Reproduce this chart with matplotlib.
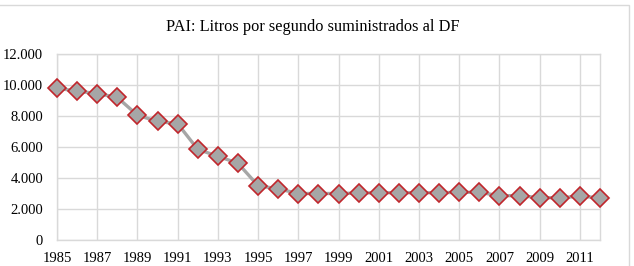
import matplotlib
matplotlib.use("Agg")
import matplotlib.pyplot as plt
from matplotlib.patches import Rectangle
from matplotlib.ticker import FuncFormatter

years = list(range(1985, 2013))
values = [9800, 9600, 9450, 9200, 8050, 7650, 7500, 5850, 5400, 4950,
          3500, 3300, 3000, 3000, 3000, 3030, 3050, 3050, 3050, 3050,
          3075, 3075, 2860, 2860, 2730, 2730, 2820, 2730]
title = "PAI: Litros por segundo suministrados al DF"
yticks = [0, 2000, 4000, 6000, 8000, 10000, 12000]
xticks = list(range(1985, 2012, 2))

plt.rcParams['font.family'] = ['Liberation Serif', 'DejaVu Serif']

W, H = 634, 266
fig = plt.figure(figsize=(W / 100, H / 100), dpi=100)
fig.patch.set_facecolor('white')

# outer chart frame
fig.patches.append(Rectangle((-0.01, -0.05), (629 + 6) / W, 1 - 5 / H + 0.05,
                             transform=fig.transFigure, fill=False,
                             edgecolor='#d9d9d9', linewidth=1.0))

left, right, top, bottom = 57, 600, 54, 240
ax = fig.add_axes([left / W, (H - bottom) / H, (right - left) / W, (bottom - top) / H])

ax.plot(years, values, color='#a6a6a6', linewidth=2.4, marker='D',
        markersize=9.3, markerfacecolor='#a6a6a6', markeredgecolor='#c0262c',
        markeredgewidth=1.2, zorder=3, clip_on=False)

ax.set_xlim(1985, 2012)
ax.set_ylim(0, 12000)
ax.set_yticks(yticks)
ax.set_xticks(xticks)
ax.yaxis.set_major_formatter(FuncFormatter(lambda v, p: f"{int(v):,}".replace(",", ".")))
ax.grid(True, color='#d9d9d9', linewidth=1.0)
ax.set_axisbelow(True)
for s in ax.spines.values():
    s.set_color('#d9d9d9')
    s.set_linewidth(1.0)
ax.tick_params(length=0, labelsize=10.5, colors='black')
ax.tick_params(axis='x', pad=9)
ax.tick_params(axis='y', pad=10)

fig.text(313 / W, 1 - 27 / H, title, ha='center', va='center', fontsize=11.8)

fig.savefig('out.png', dpi=100)
